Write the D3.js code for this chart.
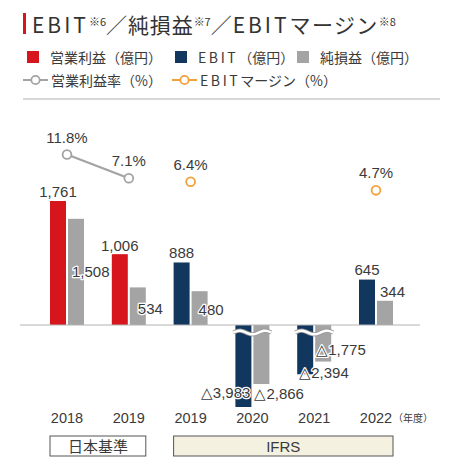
<!DOCTYPE html>
<html><head><meta charset="utf-8">
<script src="https://cdn.jsdelivr.net/npm/d3@7"></script>
<style>
html,body{margin:0;padding:0;background:#fff;}
svg{display:block;}
</style></head>
<body>
<script>
// ---- data ----
const years = ["2018","2019","2019","2020","2021","2022"];
const standards = ["JGAAP","JGAAP","IFRS","IFRS","IFRS","IFRS"];
const operatingIncome = [1761, 1006, null, null, null, null];   // 営業利益(億円)
const ebit = [null, null, 888, -3983, -2394, 645];              // EBIT(億円)
const netIncome = [1508, 534, 480, -2866, -1775, 344];          // 純損益(億円)
const operatingMargin = [11.8, 7.1, null, null, null, null];    // 営業利益率(%)
const ebitMargin = [null, null, 6.4, null, null, 4.7];          // EBITマージン(%)
const standardLabels = {JGAAP: "日本基準", IFRS: "IFRS"};

const W = 463, H = 464;
const C = {red:"#d7151d", navy:"#11375f", gray:"#a4a4a4", orange:"#f0a13a", lineGray:"#a3a3a3", text:"#3a3a3a"};
const numFont = "'Liberation Sans', Arial, sans-serif";
const jpFont = "'Noto Sans CJK JP', 'Noto Sans', sans-serif";

const svg = d3.select("body").append("svg").attr("width", W).attr("height", H);

// helper: text with wider-spaced Latin runs
function richText(sel, parts) {
  parts.forEach(p => {
    const ts = sel.append("tspan").text(p.t);
    if (p.ls != null) ts.attr("letter-spacing", p.ls);
    if (p.fs) ts.attr("font-size", p.fs);
    if (p.dy) ts.attr("dy", p.dy);
  });
}

// ---- title ----
svg.append("rect").attr("x",23).attr("y",13).attr("width",3).attr("height",21).attr("fill",C.red);
const title = svg.append("text").attr("x",32).attr("y",33).attr("font-family",jpFont).attr("font-weight",400)
  .attr("font-size",21).attr("fill","#333");
richText(title, [
  {t:"EBIT", ls:3},
  {t:"※6", fs:11, dy:-7, ls:0},
  {t:"／純損益", dy:7, ls:0.9},
  {t:"※7", fs:11, dy:-7, ls:0},
  {t:"／", dy:7, ls:0.9},
  {t:"EBIT", ls:3},
  {t:"マージン", ls:1.4},
  {t:"※8", fs:11, dy:-7, ls:0}
]);

// ---- legend ----
const lg = svg.append("g").attr("font-family",jpFont).attr("font-size",14).attr("fill",C.text);
const sq = [[27,C.red,[{t:"営業利益（億円）"}]],[175,C.navy,[{t:"EBIT",ls:2.6},{t:"（億円）",ls:0}]],[297,C.gray,[{t:"純損益（億円）"}]]];
sq.forEach(([x,c,parts]) => {
  lg.append("rect").attr("x",x).attr("y",51).attr("width",12).attr("height",12).attr("fill",c);
  richText(lg.append("text").attr("x",x+23).attr("y",63), parts);
});
const ln = [[23,C.lineGray,[{t:"営業利益率（%）"}]],[172,C.orange,[{t:"EBIT",ls:2.6},{t:"マージン（%）",ls:0}]]];
ln.forEach(([x,c,parts]) => {
  lg.append("line").attr("x1",x).attr("x2",x+25).attr("y1",80).attr("y2",80).attr("stroke",c).attr("stroke-width",2);
  lg.append("circle").attr("cx",x+12.5).attr("cy",80).attr("r",4.2).attr("fill","#fff").attr("stroke",c).attr("stroke-width",1.8);
  richText(lg.append("text").attr("x",x+28).attr("y",86), parts);
});
svg.append("line").attr("x1",23).attr("x2",440).attr("y1",99).attr("y2",99).attr("stroke","#b0b0b0").attr("stroke-width",1);

// ---- scales ----
const idx = d3.range(years.length);
const x = d3.scalePoint().domain(idx).range([67, 376]);
const inner = d3.scaleBand().domain(["main","net"]).range([-17, 17]).paddingInner(0.111);
const y = d3.scaleLinear().domain([-3983, 0, 1761]).range([407, 325, 201]);
const yPct = d3.scaleLinear().domain([0, 12]).range([214.1, 153.5]);
const fmt = d3.format(",");
const lab = v => v < 0 ? "△" + fmt(-v) : fmt(v);

// ---- bars ----
const mainVals = idx.map(i => operatingIncome[i] != null ? {i, v: operatingIncome[i], c: C.red} : {i, v: ebit[i], c: C.navy});
const netVals = idx.map(i => ({i, v: netIncome[i], c: C.gray}));
const bars = svg.append("g");
function drawBars(data, key) {
  bars.selectAll("rect." + key).data(data).join("rect").attr("class", key)
    .attr("x", d => x(d.i) + inner(key))
    .attr("width", inner.bandwidth())
    .attr("y", d => Math.min(y(d.v), y(0)))
    .attr("height", d => Math.abs(y(d.v) - y(0)))
    .attr("fill", d => d.c);
}
drawBars(mainVals, "main");
drawBars(netVals, "net");

// baseline
svg.append("line").attr("x1",20).attr("x2",420).attr("y1",y(0)).attr("y2",y(0)).attr("stroke","#b3b3b3").attr("stroke-width",1);

// axis break waves for negative groups
const breakY = y(0) + 7.5;
idx.filter(i => netIncome[i] < 0).forEach(i => {
  const x0 = x(i) - 19, x1 = x(i) + 19;
  const pts = d3.range(0, 41).map(k => {
    const px = x0 + (x1 - x0) * k / 40;
    return [px, breakY + 1.8 * Math.sin(k / 40 * Math.PI * 2 * 1.5 + Math.PI)];
  });
  const line = d3.line().curve(d3.curveBasis);
  svg.append("path").attr("d", line(pts)).attr("fill","none").attr("stroke","#9a9a9a").attr("stroke-width",4.2);
  svg.append("path").attr("d", line(pts)).attr("fill","none").attr("stroke","#fff").attr("stroke-width",2.4);
});

// ---- value labels ----
const mainPlace = [
  {a:"middle", ref:"c", dx:0, edge:"top", dy:-4},
  {a:"middle", ref:"c", dx:0, edge:"top", dy:-3},
  {a:"middle", ref:"c", dx:0, edge:"top", dy:-4},
  {a:"end", ref:"r", dx:-1, edge:"bottom", dy:-9},
  {a:"start", ref:"l", dx:2, edge:"bottom", dy:4},
  {a:"middle", ref:"c", dx:0, edge:"top", dy:-5}
];
const netPlace = [
  {a:"start", ref:"l", dx:4, edge:"top", dy:58},
  {a:"start", ref:"l", dx:8, edge:"top", dy:27},
  {a:"start", ref:"l", dx:7, edge:"top", dy:24},
  {a:"start", ref:"l", dx:1, edge:"bottom", dy:15},
  {a:"start", ref:"l", dx:1, edge:"bottom", dy:-7},
  {a:"start", ref:"l", dx:3, edge:"top", dy:-4}
];
const labels = svg.append("g").attr("font-family",numFont).attr("font-size",15).attr("fill",C.text)
  .attr("stroke","#fff").attr("stroke-width",2.5).attr("paint-order","stroke").attr("stroke-linejoin","round");
function drawLabels(data, key, place) {
  data.forEach(d => {
    const p = place[d.i];
    const bx = x(d.i) + inner(key), bw = inner.bandwidth();
    const rx = p.ref === "c" ? bx + bw / 2 : p.ref === "l" ? bx : bx + bw;
    const top = Math.min(y(d.v), y(0)), bottom = Math.max(y(d.v), y(0));
    const ry = p.edge === "top" ? top : bottom;
    labels.append("text").attr("x", rx + p.dx).attr("y", ry + p.dy).attr("text-anchor", p.a).text(lab(d.v));
  });
}
drawLabels(mainVals, "main", mainPlace);
drawLabels(netVals, "net", netPlace);

// ---- percentage series ----
const pctG = svg.append("g");
const opPts = idx.filter(i => operatingMargin[i] != null).map(i => ({i, v: operatingMargin[i]}));
const ebPts = idx.filter(i => ebitMargin[i] != null).map(i => ({i, v: ebitMargin[i]}));
pctG.append("path").attr("d", d3.line().x(d => x(d.i)).y(d => yPct(d.v))(opPts))
  .attr("fill","none").attr("stroke",C.lineGray).attr("stroke-width",2.2);
[[opPts, C.lineGray],[ebPts, C.orange]].forEach(([pts, c]) => {
  pctG.selectAll(null).data(pts).join("circle")
    .attr("cx", d => x(d.i)).attr("cy", d => yPct(d.v)).attr("r", 4.4)
    .attr("fill","#fff").attr("stroke", c).attr("stroke-width", 1.8);
  pctG.selectAll(null).data(pts).join("text")
    .attr("x", d => x(d.i)).attr("y", d => yPct(d.v) - 12).attr("text-anchor","middle")
    .attr("font-family",numFont).attr("font-size",15).attr("fill",C.text)
    .text(d => d.v.toFixed(1) + "%");
});

// ---- x axis labels ----
const ax = svg.append("g").attr("font-family",numFont).attr("font-size",14.5).attr("fill",C.text);
idx.forEach(i => ax.append("text").attr("x", x(i)).attr("y", 423).attr("text-anchor","middle").text(years[i]));
ax.append("text").attr("x", x(idx.length - 1) + 17).attr("y", 422).attr("font-family",jpFont).attr("font-size",10).text("（年度）");

// ---- accounting standard boxes ----
const groups = d3.groups(idx, i => standards[i]);
groups.forEach(([std, is]) => {
  const x0 = x(is[0]) - 17, x1 = x(is[is.length - 1]) + 17;
  svg.append("rect").attr("x", x0).attr("y", 436).attr("width", x1 - x0).attr("height", 20)
    .attr("fill", std === "IFRS" ? "#f4f1e1" : "#fff").attr("stroke","#555").attr("stroke-width",1);
  svg.append("text").attr("x", (x0 + x1) / 2).attr("y", 451.5).attr("text-anchor","middle")
    .attr("font-family", std === "IFRS" ? numFont : jpFont).attr("font-size",15).attr("fill",C.text)
    .text(standardLabels[std]);
});
</script>
</body></html>
